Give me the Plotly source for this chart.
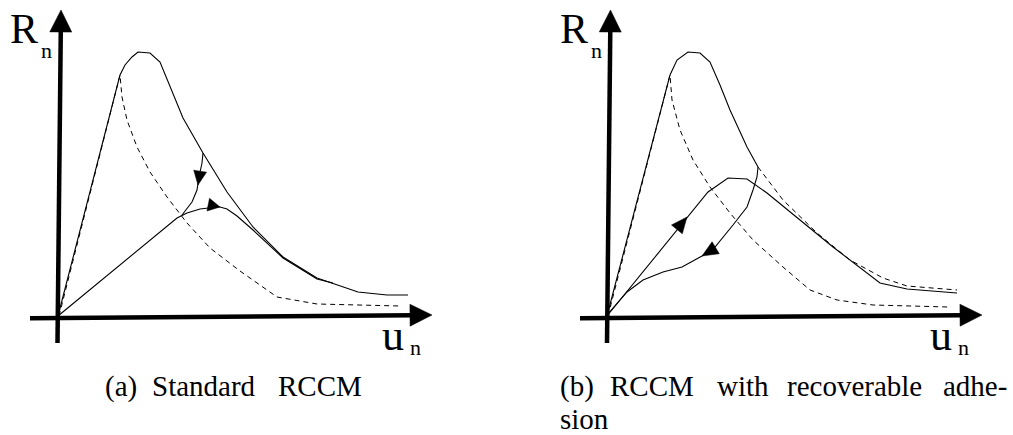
"""
RCCM cohesive-zone sketch: normal traction R_n against opening u_n,
(a) standard model and (b) model with recoverable adhesion.
"""

import numpy as np
import plotly.graph_objects as go

W, H = 1013, 435
PX = 100                      # pixels per sketch unit (same on both axes)
ORIGIN_A = (58, 316)          # pixel position of u=0, R=0 in panel (a)
ORIGIN_B = (607, 316)         # same for panel (b)
FONT = "Liberation Serif, Times New Roman, Tinos, DejaVu Serif, serif"

# ---- panel (a): standard RCCM ----
A_ENV_U = [0.00, 0.62, 0.67, 0.74, 0.80, 0.92, 1.02, 1.12, 1.25, 1.45, 1.69, 1.95, 2.25, 2.59, 3.00, 3.29, 3.50]
A_ENV_R = [0.00, 2.41, 2.51, 2.59, 2.64, 2.63, 2.54, 2.29, 1.98, 1.63, 1.24, 0.89, 0.59, 0.38, 0.24, 0.21, 0.21]

A_DMG_U = [0.01, 0.62, 0.64, 0.69, 0.79, 0.92, 1.09, 1.29, 1.52, 1.82, 2.19, 2.59, 3.42]
A_DMG_R = [0.00, 2.41, 2.19, 1.96, 1.69, 1.44, 1.19, 0.93, 0.68, 0.45, 0.19, 0.12, 0.10]

A_LOAD_U = [0.00, 1.19, 1.29, 1.42, 1.59, 1.62, 1.69, 1.79, 1.95, 2.25, 2.59, 2.75]
A_LOAD_R = [0.00, 0.98, 1.03, 1.07, 1.09, 1.09, 1.07, 1.00, 0.86, 0.58, 0.37, 0.33]

A_UNLOAD_U = [1.45, 1.44, 1.41, 1.40, 1.39, 1.34, 1.24]
A_UNLOAD_R = [1.63, 1.53, 1.39, 1.31, 1.26, 1.14, 1.01]

# ---- panel (b): RCCM with recoverable adhesion ----
B_ENV_U = [0.00, 0.63, 0.70, 0.81, 0.93, 1.03, 1.13, 1.23, 1.40, 1.51]
B_ENV_R = [0.00, 2.41, 2.56, 2.64, 2.63, 2.54, 2.31, 2.06, 1.69, 1.49]

B_ENV_TAIL_U = [1.51, 1.76, 2.10, 2.43, 2.76, 3.00, 3.50]
B_ENV_TAIL_R = [1.49, 1.16, 0.83, 0.56, 0.38, 0.30, 0.26]

B_DMG_U = [0.01, 0.63, 0.65, 0.73, 0.86, 1.03, 1.23, 1.46, 1.76, 2.03, 2.30, 2.66, 3.41]
B_DMG_R = [0.00, 2.41, 2.16, 1.86, 1.56, 1.29, 1.03, 0.76, 0.49, 0.26, 0.16, 0.11, 0.09]

B_LOAD_U = [0.00, 0.80, 1.01, 1.21, 1.40, 1.60, 1.93, 2.26, 2.73, 3.00, 3.50]
B_LOAD_R = [0.00, 0.99, 1.24, 1.38, 1.37, 1.23, 0.96, 0.69, 0.33, 0.27, 0.23]

B_UNLOAD_U = [1.51, 1.50, 1.46, 1.40, 1.26, 1.08, 0.95, 0.75, 0.56, 0.36, 0.20, 0.00]
B_UNLOAD_R = [1.49, 1.39, 1.26, 1.09, 0.91, 0.69, 0.60, 0.49, 0.44, 0.36, 0.24, 0.01]

# axis arrows: (start u, start R, tip u, tip R)
AXES = {
    "a": [(-0.28, -0.023, 3.74, 0.010), (-0.005, -0.27, 0.03, 3.06)],
    "b": [(-0.27, -0.023, 3.75, 0.010), (0.000, -0.27, 0.035, 3.06)],
}

# labels: (text, left px, baseline px, font size)
LABELS = [
    ("R", 9, 43, 42), ("n", 40, 58, 22), ("u", 381, 350, 44), ("n", 409, 355, 22),
    ("R", 559, 43, 42), ("n", 590, 58, 22), ("u", 929, 350, 44), ("n", 957, 355, 22),
]
CAPTION_SIZE = 29
CAPTION_A = [("(a)", 104), ("Standard", 151), ("RCCM", 277)]
CAPTION_B1 = [("(b)", 559), ("RCCM", 609), ("with", 716), ("recoverable", 786), ("adhe-", 942)]
CAPTION_B2 = [("sion", 559)]
CAPTION_BASE = (396, 429)

fig = go.Figure()


def axis_names(panel):
    return ("x", "y") if panel == "a" else ("x2", "y2")


def add_curve(u, r, panel, dash=None, width=1.1):
    xa, ya = axis_names(panel)
    fig.add_trace(go.Scatter(x=u, y=r, mode="lines", xaxis=xa, yaxis=ya,
                             line=dict(color="black", width=width, dash=dash),
                             hoverinfo="skip", showlegend=False))


def add_head(tip, d, panel, length, half):
    d = np.asarray(d, float)
    d = d / np.hypot(*d)
    nrm = np.array([-d[1], d[0]])
    tip = np.asarray(tip, float)
    base = tip - length * d
    pts = np.array([tip, base + half * nrm, base - half * nrm, tip])
    xa, ya = axis_names(panel)
    fig.add_trace(go.Scatter(x=pts[:, 0], y=pts[:, 1], mode="lines", fill="toself",
                             fillcolor="black", line=dict(color="black", width=0.5),
                             xaxis=xa, yaxis=ya, hoverinfo="skip", showlegend=False))


def arrow_on(u, r, k, panel, length=0.14, half=0.065):
    # arrow head with its tip on vertex k, pointing along the curve
    d = (u[k + 1] - u[k - 1], r[k + 1] - r[k - 1])
    add_head((u[k], r[k]), d, panel, length, half)


# panel (a)
add_curve(A_DMG_U, A_DMG_R, "a", dash="5px,4px", width=1)
add_curve(A_ENV_U, A_ENV_R, "a")
add_curve(A_LOAD_U, A_LOAD_R, "a")
add_curve(A_UNLOAD_U, A_UNLOAD_R, "a")
arrow_on(A_UNLOAD_U, A_UNLOAD_R, 3, "a")
arrow_on(A_LOAD_U, A_LOAD_R, 5, "a", length=0.12)

# panel (b)
add_curve(B_DMG_U, B_DMG_R, "b", dash="5px,4px", width=1)
add_curve(B_ENV_TAIL_U, B_ENV_TAIL_R, "b", dash="5px,4px", width=1)
add_curve(B_ENV_U, B_ENV_R, "b")
add_curve(B_LOAD_U, B_LOAD_R, "b")
add_curve(B_UNLOAD_U, B_UNLOAD_R, "b")
arrow_on(B_LOAD_U, B_LOAD_R, 1, "b", length=0.16, half=0.07)
arrow_on(B_UNLOAD_U, B_UNLOAD_R, 6, "b", length=0.16, half=0.07)

# thick coordinate axes with arrow heads
for panel, lines in AXES.items():
    for u0, r0, u1, r1 in lines:
        d = np.array([u1 - u0, r1 - r0])
        d = d / np.hypot(*d)
        end = np.array([u1, r1]) - 0.2 * d
        add_curve([u0, end[0]], [r0, end[1]], panel, width=4.5)
        add_head((u1, r1), d, panel, 0.22, 0.11)


def text(s, left, baseline, size):
    # centre of the text box sits about a third of the font size above the baseline
    fig.add_annotation(text=s, xref="paper", yref="paper", showarrow=False,
                       x=left / W, y=1 - (baseline - 0.3375 * size) / H,
                       xanchor="left", yanchor="middle", borderpad=0,
                       font=dict(family=FONT, size=size, color="black"))


for s, x, b, size in LABELS:
    text(s, x, b, size)
for s, x in CAPTION_A + CAPTION_B1:
    text(s, x, CAPTION_BASE[0], CAPTION_SIZE)
for s, x in CAPTION_B2:
    text(s, x, CAPTION_BASE[1], CAPTION_SIZE)

hidden = dict(visible=False, showgrid=False, zeroline=False, fixedrange=True)
fig.update_layout(
    width=W, height=H, margin=dict(l=0, r=0, t=0, b=0),
    paper_bgcolor="white", plot_bgcolor="white", showlegend=False,
    font=dict(family=FONT),
    xaxis=dict(hidden, domain=[0, 0.5], range=[(0 - ORIGIN_A[0]) / PX, (W / 2 - ORIGIN_A[0]) / PX]),
    yaxis=dict(hidden, domain=[0, 1], range=[(ORIGIN_A[1] - H) / PX, ORIGIN_A[1] / PX]),
    xaxis2=dict(hidden, domain=[0.5, 1], range=[(W / 2 - ORIGIN_B[0]) / PX, (W - ORIGIN_B[0]) / PX]),
    yaxis2=dict(hidden, domain=[0, 1], anchor="x2", range=[(ORIGIN_B[1] - H) / PX, ORIGIN_B[1] / PX]),
)

fig.write_html("out.html", config={"displayModeBar": False},
               post_script="document.body.style.margin='0';")
